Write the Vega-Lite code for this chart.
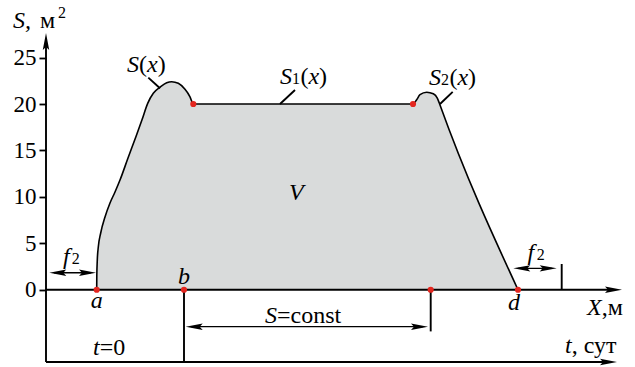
{
  "width": 580,
  "height": 325,
  "autosize": {"type": "none"},
  "padding": {"left": 46, "top": 39, "right": 9, "bottom": 3},
  "background": "white",
  "config": {"view": {"stroke": null}},
  "datasets": {
    "curve": [
      {"x": 5.07, "y": 0}, {"x": 5.08, "y": 1.48}, {"x": 5.13, "y": 3.2}, {"x": 5.23, "y": 4.6},
      {"x": 5.47, "y": 6.11}, {"x": 5.9, "y": 7.83}, {"x": 6.4, "y": 9.34}, {"x": 6.9, "y": 10.52},
      {"x": 7.4, "y": 11.81}, {"x": 8.2, "y": 14.18}, {"x": 9.0, "y": 16.5}, {"x": 9.6, "y": 18.3},
      {"x": 10.17, "y": 20.07}, {"x": 10.73, "y": 21.15}, {"x": 11.4, "y": 21.8}, {"x": 12.07, "y": 22.29},
      {"x": 12.57, "y": 22.4}, {"x": 13.23, "y": 22.23}, {"x": 13.9, "y": 21.58}, {"x": 14.4, "y": 20.78},
      {"x": 14.73, "y": 20.0}, {"x": 36.7, "y": 20.0}, {"x": 37.07, "y": 20.46}, {"x": 37.4, "y": 21.0},
      {"x": 38.07, "y": 21.27}, {"x": 38.73, "y": 21.1}, {"x": 39.13, "y": 20.64}, {"x": 39.33, "y": 20.1},
      {"x": 39.4, "y": 19.89}, {"x": 47.2, "y": 0}
    ],
    "dots": [
      {"x": 5.07, "y": 0}, {"x": 13.8, "y": 0}, {"x": 38.47, "y": 0}, {"x": 47.2, "y": 0},
      {"x": 14.73, "y": 20.0}, {"x": 36.7, "y": 20.0}
    ],
    "lines": [
      {"x": 0, "y": -7.79, "x2": 0, "y2": 26.3},
      {"x": 0, "y": 0, "x2": 56.5, "y2": 0},
      {"x": 0, "y": -7.79, "x2": 56, "y2": -7.79},
      {"x": 13.8, "y": 0, "x2": 13.8, "y2": -7.79},
      {"x": 38.47, "y": 0, "x2": 38.47, "y2": -4.49},
      {"x": 51.57, "y": 0, "x2": 51.57, "y2": 2.77},
      {"x": 10.23, "y": 22.84, "x2": 11.4, "y2": 21.69},
      {"x": 23.4, "y": 20.0, "x2": 24.9, "y2": 21.51},
      {"x": 39.4, "y": 20.0, "x2": 40.67, "y2": 21.3}
    ],
    "shafts": [
      {"x": 0.8, "y": 1.83, "x2": 4.5, "y2": 1.83},
      {"x": 47.2, "y": 2.3, "x2": 50.6, "y2": 2.3},
      {"x": 14.5, "y": -3.98, "x2": 37.7, "y2": -3.98}
    ],
    "arrows": [
      {"x": 0, "y": 27.64, "deg": 0},
      {"x": 57.6, "y": 0, "deg": 90},
      {"x": 57.1, "y": -7.79, "deg": 90},
      {"x": 0.33, "y": 1.83, "deg": 270},
      {"x": 5.0, "y": 1.83, "deg": 90},
      {"x": 46.73, "y": 2.3, "deg": 270},
      {"x": 51.07, "y": 2.3, "deg": 90},
      {"x": 13.97, "y": -3.98, "deg": 270},
      {"x": 38.2, "y": -3.98, "deg": 90}
    ],
    "italic": [
      {"t": "S,", "x": -3.3, "y": 28.18},
      {"t": "S", "x": 8.1, "y": 23.44},
      {"t": "x", "x": 10.1, "y": 23.44},
      {"t": "S", "x": 23.4, "y": 22.15},
      {"t": "x", "x": 26.25, "y": 22.15},
      {"t": "S", "x": 38.3, "y": 22.04},
      {"t": "x", "x": 41.15, "y": 22.04},
      {"t": "V", "x": 24.3, "y": 9.66},
      {"t": "a", "x": 4.47, "y": -1.97},
      {"t": "b", "x": 13.2, "y": 0.61},
      {"t": "d", "x": 46.2, "y": -2.19},
      {"t": "f", "x": 1.7, "y": 2.77},
      {"t": "f", "x": 48.15, "y": 3.2},
      {"t": "S", "x": 21.9, "y": -3.59},
      {"t": "t", "x": 4.7, "y": -7.03},
      {"t": "t", "x": 51.9, "y": -6.82},
      {"t": "X", "x": 54.1, "y": -2.72}
    ],
    "roman": [
      {"t": "м", "x": -0.6, "y": 28.18},
      {"t": "(", "x": 9.3, "y": 23.44},
      {"t": ")", "x": 11.17, "y": 23.44},
      {"t": "(", "x": 25.45, "y": 22.15},
      {"t": ")", "x": 27.3, "y": 22.15},
      {"t": "(", "x": 40.35, "y": 22.04},
      {"t": ")", "x": 42.2, "y": 22.04},
      {"t": "=const", "x": 23.1, "y": -3.59},
      {"t": "=0", "x": 5.37, "y": -7.03},
      {"t": ", сут", "x": 52.57, "y": -6.82},
      {"t": ",м", "x": 55.57, "y": -2.72}
    ],
    "small": [
      {"t": "2", "x": 1.2, "y": 29.26},
      {"t": "1", "x": 24.6, "y": 22.15},
      {"t": "2", "x": 39.5, "y": 22.04},
      {"t": "2", "x": 2.57, "y": 2.77},
      {"t": "2", "x": 49.07, "y": 3.2}
    ]
  },
  "layer": [
    {
      "data": {"name": "curve"},
      "mark": {"type": "area", "fill": "#d9dbdb", "interpolate": "monotone"},
      "encoding": {
        "x": {"field": "x", "type": "quantitative", "scale": {"domain": [0, 58], "nice": false, "zero": false}, "axis": null},
        "y": {"field": "y", "type": "quantitative", "scale": {"domain": [-8, 27], "nice": false, "zero": false},
          "axis": {"values": [0, 5, 10, 15, 20, 25], "domain": false, "grid": false, "title": null, "tickSize": 7, "tickWidth": 1.8, "tickColor": "black", "labelFont": "Liberation Serif", "labelFontSize": 23, "labelColor": "black", "labelPadding": 3}},
        "y2": {"datum": 0}
      }
    },
    {
      "data": {"name": "curve"},
      "mark": {"type": "line", "stroke": "black", "strokeWidth": 1.6, "interpolate": "monotone"},
      "encoding": {"x": {"field": "x", "type": "quantitative"}, "y": {"field": "y", "type": "quantitative"}}
    },
    {
      "data": {"name": "lines"},
      "mark": {"type": "rule", "stroke": "black", "strokeWidth": 1.9},
      "encoding": {"x": {"field": "x", "type": "quantitative"}, "y": {"field": "y", "type": "quantitative"}, "x2": {"field": "x2"}, "y2": {"field": "y2"}}
    },
    {
      "data": {"name": "shafts"},
      "mark": {"type": "rule", "stroke": "black", "strokeWidth": 1.4},
      "encoding": {"x": {"field": "x", "type": "quantitative"}, "y": {"field": "y", "type": "quantitative"}, "x2": {"field": "x2"}, "y2": {"field": "y2"}}
    },
    {
      "data": {"name": "arrows"},
      "mark": {"type": "point", "shape": "M0,0L0.38,2L0,1.65L-0.38,2Z", "filled": true, "color": "black", "size": 289, "opacity": 1},
      "encoding": {"x": {"field": "x", "type": "quantitative"}, "y": {"field": "y", "type": "quantitative"}, "angle": {"field": "deg", "type": "quantitative", "scale": null}}
    },
    {
      "data": {"name": "dots"},
      "mark": {"type": "point", "shape": "circle", "filled": true, "color": "#e3261f", "size": 38, "opacity": 1},
      "encoding": {"x": {"field": "x", "type": "quantitative"}, "y": {"field": "y", "type": "quantitative"}}
    },
    {
      "data": {"name": "italic"},
      "mark": {"type": "text", "font": "Liberation Serif", "fontSize": 24, "fontStyle": "italic", "align": "left", "baseline": "alphabetic", "color": "black"},
      "encoding": {"x": {"field": "x", "type": "quantitative"}, "y": {"field": "y", "type": "quantitative"}, "text": {"field": "t"}}
    },
    {
      "data": {"name": "roman"},
      "mark": {"type": "text", "font": "Liberation Serif", "fontSize": 24, "align": "left", "baseline": "alphabetic", "color": "black"},
      "encoding": {"x": {"field": "x", "type": "quantitative"}, "y": {"field": "y", "type": "quantitative"}, "text": {"field": "t"}}
    },
    {
      "data": {"name": "small"},
      "mark": {"type": "text", "font": "Liberation Serif", "fontSize": 16, "align": "left", "baseline": "alphabetic", "color": "black"},
      "encoding": {"x": {"field": "x", "type": "quantitative"}, "y": {"field": "y", "type": "quantitative"}, "text": {"field": "t"}}
    }
  ]
}
